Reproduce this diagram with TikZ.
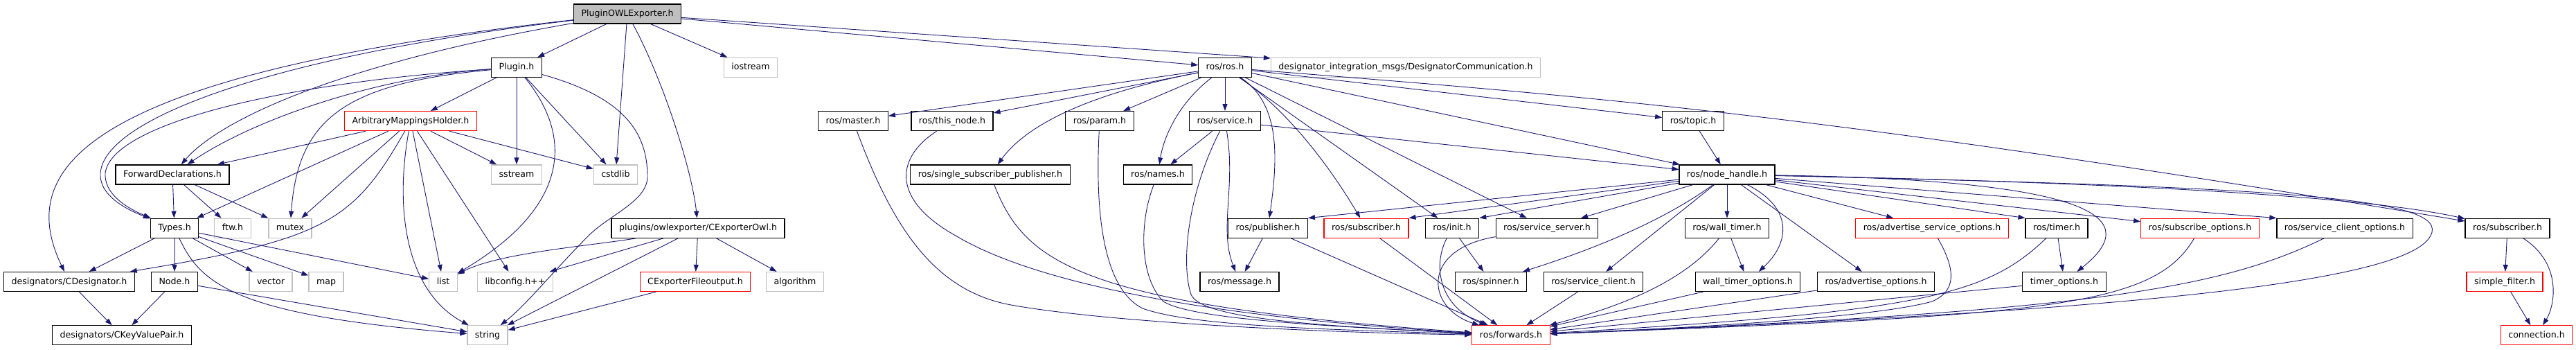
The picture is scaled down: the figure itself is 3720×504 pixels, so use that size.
\documentclass[tikz,border=0pt]{standalone}
\usepackage{fontspec}
\setmainfont{DejaVu Sans}
\usetikzlibrary{arrows.meta}
\definecolor{depblue}{HTML}{191970}
\definecolor{sysgray}{HTML}{BFBFBF}
\begin{document}
\begin{tikzpicture}[x=1pt,y=-1pt,node distance=77.3pt,
    >={Triangle[length=10pt,width=7pt]},
    hdr/.style={draw, rectangle, line width=1.2pt, inner xsep=11pt, inner ysep=0pt,
      minimum height=28pt, text height=9.5pt, text depth=2.5pt,
      font=\fontsize{12.6}{14}\selectfont},
    sys/.style={hdr, draw=sysgray},
    undoc/.style={hdr, draw=red},
    dep/.style={->, draw=depblue, line width=0.9pt}]
  \useasboundingbox (0,0) rectangle (3720,504);
  \node (root) [hdr, fill=sysgray] at (906,20) {PluginOWLExporter.h};
  \node (plugin) [hdr, below of=root, xshift=-160] {Plugin.h};
  \node (iostream) [sys, below of=root, xshift=178] {iostream};
  \node (rosros) [hdr, below of=root, xshift=863] {ros/ros.h};
  \node (dicomm) [sys, below of=root, xshift=1124] {designator\_integration\_msgs/DesignatorCommunication.h};
  \node (amh) [undoc, below of=plugin, xshift=-153] {ArbitraryMappingsHolder.h};
  \node (master) [hdr, below of=rosros, xshift=-537] {ros/master.h};
  \node (thisnode) [hdr, below of=rosros, xshift=-394] {ros/this\_node.h};
  \node (param) [hdr, below of=rosros, xshift=-181] {ros/param.h};
  \node (service) [hdr, below of=rosros] {ros/service.h};
  \node (topic) [hdr, below of=rosros, xshift=676] {ros/topic.h};
  \node (fwddecl) [hdr, below of=amh, xshift=-344] {ForwardDeclarations.h};
  \node (sstream) [sys, below of=amh, xshift=153] {sstream};
  \node (cstdlib) [sys, below of=amh, xshift=296] {cstdlib};
  \node (ssp) [hdr, below of=thisnode, xshift=55] {ros/single\_subscriber\_publisher.h};
  \node (names) [hdr, below of=service, xshift=-97] {ros/names.h};
  \node (nodehandle) [hdr, below of=topic, xshift=49] {ros/node\_handle.h};
  \node (types) [hdr, below of=fwddecl, xshift=3] {Types.h};
  \node (ftw) [sys, below of=fwddecl, xshift=87] {ftw.h};
  \node (mutex) [sys, below of=fwddecl, xshift=170] {mutex};
  \node (cexowl) [hdr, below of=cstdlib, xshift=119] {plugins/owlexporter/CExporterOwl.h};
  \node (publisher) [hdr, below of=nodehandle, xshift=-663] {ros/publisher.h};
  \node (subscr) [undoc, below of=nodehandle, xshift=-521] {ros/subscriber.h};
  \node (init) [hdr, below of=nodehandle, xshift=-397] {ros/init.h};
  \node (srvserver) [hdr, below of=nodehandle, xshift=-260] {ros/service\_server.h};
  \node (walltimer) [hdr, below of=nodehandle] {ros/wall\_timer.h};
  \node (advsrvopt) [undoc, below of=nodehandle, xshift=296] {ros/advertise\_service\_options.h};
  \node (timer) [hdr, below of=nodehandle, xshift=476] {ros/timer.h};
  \node (subopt) [undoc, below of=nodehandle, xshift=683] {ros/subscribe\_options.h};
  \node (srvclopt) [hdr, below of=nodehandle, xshift=892] {ros/service\_client\_options.h};
  \node (subscriber) [hdr, below of=nodehandle, xshift=1127] {ros/subscriber.h};
  \node (cdes) [hdr, below of=types, xshift=-152] {designators/CDesignator.h};
  \node (nodeh) [hdr, below of=types] {Node.h};
  \node (vector) [sys, below of=types, xshift=139] {vector};
  \node (map) [sys, below of=types, xshift=219] {map};
  \node (list) [sys, below of=types, xshift=388] {list};
  \node (libconfig) [sys, below of=cexowl, xshift=-264] {libconfig.h++};
  \node (cexfile) [undoc, below of=cexowl, xshift=-4] {CExporterFileoutput.h};
  \node (algorithm) [sys, below of=cexowl, xshift=140] {algorithm};
  \node (message) [hdr, below of=publisher, xshift=-41] {ros/message.h};
  \node (spinner) [hdr, below of=init, xshift=56] {ros/spinner.h};
  \node (srvclient) [hdr, below of=srvserver, xshift=67] {ros/service\_client.h};
  \node (wtopt) [hdr, below of=walltimer, xshift=30] {wall\_timer\_options.h};
  \node (advopt) [hdr, below of=walltimer, xshift=215] {ros/advertise\_options.h};
  \node (timeropt) [hdr, below of=timer, xshift=11] {timer\_options.h};
  \node (simplefilter) [undoc, below of=subscriber, xshift=-4] {simple\_filter.h};
  \node (ckv) [hdr, below of=cdes, xshift=76] {designators/CKeyValuePair.h};
  \node (string) [sys, below of=list, xshift=64] {string};
  \node (forwards) [undoc, below of=spinner, xshift=29] {ros/forwards.h};
  \node (connection) [undoc, below of=simplefilter, xshift=46] {connection.h};
  \draw[dep] (root) -- (plugin);
  \draw[dep] (root) .. controls (100,110) and (25,250) .. (cdes);
  \draw[dep] (root) .. controls (400,80) and (150,170) .. (145,250) .. controls (143,285) and (190,305) .. (types);
  \draw[dep] (root) .. controls (500,90) and (320,170) .. (fwddecl);
  \draw[dep] (root) -- (cstdlib);
  \draw[dep] (root) .. controls (960,120) and (1000,250) .. (cexowl);
  \draw[dep] (root) -- (iostream);
  \draw[dep] (root) -- (rosros);
  \draw[dep] (root) -- (dicomm);
  \draw[dep] (plugin) -- (amh);
  \draw[dep] (plugin) -- (sstream);
  \draw[dep] (plugin) -- (cstdlib);
  \draw[dep] (plugin) .. controls (830,200) and (820,300) .. (list);
  \draw[dep] (plugin) .. controls (900,140) and (935,190) .. (935,255) .. controls (935,290) and (880,310) .. (850,340) .. controls (800,390) and (760,440) .. (string);
  \draw[dep] (plugin) .. controls (550,110) and (370,170) .. (fwddecl);
  \draw[dep] (plugin) .. controls (400,120) and (160,180) .. (152,250) .. controls (150,285) and (195,305) .. (types);
  \draw[dep] (plugin) .. controls (500,120) and (430,170) .. (mutex);
  \draw[dep] (amh) -- (fwddecl);
  \draw[dep] (amh) -- (types);
  \draw[dep] (amh) -- (mutex);
  \draw[dep] (amh) .. controls (510,320) and (470,345) .. (cdes);
  \draw[dep] (amh) .. controls (570,300) and (585,420) .. (string);
  \draw[dep] (amh) -- (list);
  \draw[dep] (amh) -- (libconfig);
  \draw[dep] (amh) -- (sstream);
  \draw[dep] (amh) -- (cstdlib);
  \draw[dep] (fwddecl) -- (types);
  \draw[dep] (fwddecl) -- (ftw);
  \draw[dep] (fwddecl) -- (mutex);
  \draw[dep] (types) -- (cdes);
  \draw[dep] (types) -- (nodeh);
  \draw[dep] (types) -- (vector);
  \draw[dep] (types) -- (map);
  \draw[dep] (types) -- (list);
  \draw[dep] (types) .. controls (290,410) and (340,455) .. (string);
  \draw[dep] (nodeh) -- (ckv);
  \draw[dep] (nodeh) -- (string);
  \draw[dep] (cdes) -- (ckv);
  \draw[dep] (cexowl) .. controls (850,355) and (720,365) .. (list);
  \draw[dep] (cexowl) -- (libconfig);
  \draw[dep] (cexowl) -- (string);
  \draw[dep] (cexowl) -- (cexfile);
  \draw[dep] (cexowl) -- (algorithm);
  \draw[dep] (cexfile) -- (string);
  \draw[dep] (rosros) -- (master);
  \draw[dep] (rosros) -- (thisnode);
  \draw[dep] (rosros) .. controls (1600,130) and (1490,170) .. (ssp);
  \draw[dep] (rosros) -- (param);
  \draw[dep] (rosros) .. controls (1700,150) and (1680,200) .. (names);
  \draw[dep] (rosros) -- (service);
  \draw[dep] (rosros) .. controls (1850,150) and (1845,230) .. (publisher);
  \draw[dep] (rosros) .. controls (1860,160) and (1920,240) .. (subscr);
  \draw[dep] (rosros) -- (init);
  \draw[dep] (rosros) -- (srvserver);
  \draw[dep] (rosros) -- (nodehandle);
  \draw[dep] (rosros) -- (topic);
  \draw[dep] (rosros) .. controls (2300,140) and (2600,160) .. (subscriber);
  \draw[dep] (master) .. controls (1290,330) and (1350,420) .. (1460,440) .. controls (1600,465) and (1900,480) .. (forwards);
  \draw[dep] (thisnode) .. controls (1290,230) and (1290,290) .. (1380,340) .. controls (1480,400) and (1700,455) .. (forwards);
  \draw[dep] (ssp) .. controls (1480,380) and (1560,440) .. (forwards);
  \draw[dep] (param) .. controls (1580,330) and (1600,420) .. (1650,445) .. controls (1720,470) and (1900,475) .. (forwards);
  \draw[dep] (names) .. controls (1645,320) and (1645,400) .. (1680,435) .. controls (1720,460) and (1900,470) .. (forwards);
  \draw[dep] (service) -- (names);
  \draw[dep] (service) .. controls (1785,270) and (1760,330) .. (message);
  \draw[dep] (service) .. controls (1715,280) and (1705,380) .. (1720,425) .. controls (1735,460) and (1900,470) .. (forwards);
  \draw[dep] (service) -- (nodehandle);
  \draw[dep] (topic) -- (nodehandle);
  \draw[dep] (publisher) -- (message);
  \draw[dep] (publisher) -- (forwards);
  \draw[dep] (subscr) -- (forwards);
  \draw[dep] (init) -- (spinner);
  \draw[dep] (init) .. controls (2070,380) and (2075,440) .. (forwards);
  \draw[dep] (srvserver) .. controls (2050,360) and (2060,445) .. (forwards);
  \draw[dep] (nodehandle) -- (publisher.north east);
  \draw[dep] (nodehandle) -- (subscr.north east);
  \draw[dep] (nodehandle) -- (init.north east);
  \draw[dep] (nodehandle) -- (srvserver);
  \draw[dep] (nodehandle) .. controls (2400,320) and (2300,360) .. (spinner);
  \draw[dep] (nodehandle) -- (srvclient);
  \draw[dep] (nodehandle) -- (walltimer);
  \draw[dep] (nodehandle) .. controls (2590,300) and (2585,350) .. (wtopt);
  \draw[dep] (nodehandle) -- (advopt);
  \draw[dep] (nodehandle) -- (advsrvopt);
  \draw[dep] (nodehandle) -- (timer.north west);
  \draw[dep] (nodehandle) .. controls (3050,260) and (3090,320) .. (timeropt);
  \draw[dep] (nodehandle) -- (subopt);
  \draw[dep] (nodehandle) -- (srvclopt.north west);
  \draw[dep] (nodehandle) .. controls (3000,262) and (3400,280) .. (subscriber);
  \draw[dep] (nodehandle) .. controls (3300,270) and (3540,285) .. (3510,340) .. controls (3470,420) and (2900,455) .. (forwards);
  \draw[dep] (srvclient) -- (forwards);
  \draw[dep] (walltimer) -- (wtopt);
  \draw[dep] (walltimer) .. controls (2430,410) and (2330,445) .. (forwards);
  \draw[dep] (wtopt) -- (forwards);
  \draw[dep] (advopt) -- (forwards);
  \draw[dep] (advsrvopt) .. controls (2825,390) and (2825,420) .. (2790,435) .. controls (2700,460) and (2400,475) .. (forwards);
  \draw[dep] (timer) -- (timeropt);
  \draw[dep] (timer) .. controls (2870,425) and (2780,450) .. (forwards);
  \draw[dep] (timeropt) -- (forwards);
  \draw[dep] (subopt) .. controls (3110,445) and (2950,455) .. (forwards);
  \draw[dep] (srvclopt) .. controls (3200,420) and (3000,450) .. (forwards);
  \draw[dep] (subscriber) -- (simplefilter);
  \draw[dep] (subscriber) .. controls (3700,380) and (3690,440) .. (connection);
  \draw[dep] (simplefilter) -- (connection);
\end{tikzpicture}
\end{document}
